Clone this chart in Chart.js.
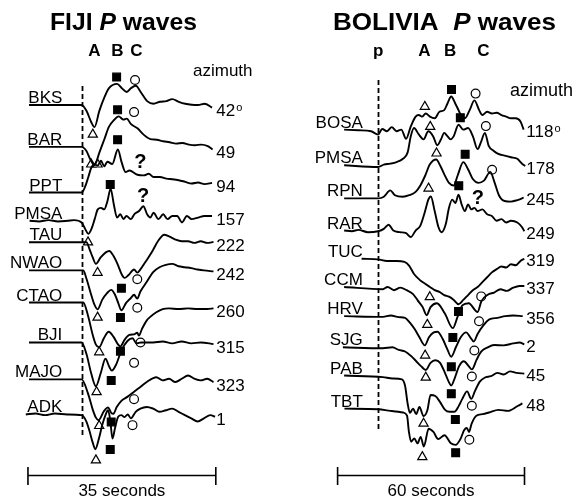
<!DOCTYPE html>
<html>
<head>
<meta charset="utf-8">
<title>FIJI / BOLIVIA P waves</title>
<script src="https://cdn.jsdelivr.net/npm/chart.js@4.4.0/dist/chart.umd.min.js"></script>
<style>
    html, body { margin: 0; padding: 0; background: #fff; }
    #wrap { position: relative; width: 576px; height: 499px; overflow: hidden; }
    #wrap canvas { position: absolute; top: 0; }
    #fijiChart { left: 0; }
    #boliviaChart { left: 288px; }
</style>
</head>
<body>
<div id="wrap">
    <canvas id="fijiChart" width="288" height="499"></canvas>
    <canvas id="boliviaChart" width="288" height="499"></canvas>
</div>
<script>
// ---- FIJI data: time (s after P) , amplitude (up = positive) ----
const fijiStations = ['BKS', 'BAR', 'PPT', 'PMSA', 'TAU', 'NWAO', 'CTAO', 'BJI', 'MAJO', 'ADK'];
const fijiAzimuth = ['42', '49', '94', '157', '222', '242', '260', '315', '323', '1'];
// trace offsets in the record section
const fijiOffset = [101, 144, 191, 220, 242, 271, 304, 345, 383, 419];

const fijiBKS = [[-9.8,0],[0,0],[0.9,-6],[1.8,-17.7],[2.4,-22.7],[3.3,-6],[4.2,7.3],[5.1,17.3],[6.6,21.7],[7.5,17.3],[8.4,13.3],[9.2,17.3],[10.1,19.7],[11,13.3],[12.2,4],[13.4,1.3],[14.6,3.3],[15.8,4],[16.9,6],[18.1,3.3],[19.3,1.3],[20.5,0.3],[21.7,0],[22.9,1.3],[24.3,-2.7]];
const fijiBAR = [[-9.8,0],[0,0],[0.9,-4.3],[1.6,-12.7],[2.4,-18.7],[3.3,-6],[4.2,7.3],[5.1,20.7],[6,27.3],[6.9,31.3],[7.8,28],[8.4,29],[9.2,23.3],[10.4,19],[11.6,12.3],[12.8,8],[14,7.3],[15.2,5.7],[16.4,4.7],[17.6,3.3],[18.8,4],[20,2.3],[21.1,1.7],[22.3,2.3],[23.5,0.7],[24.4,-2.7]];
const fijiPPT = [[-9.8,0],[0,0],[0.65,6],[1.25,16],[1.83,26],[2.4,29],[3,27.7],[3.6,32.7],[4.2,27],[4.8,31.7],[5.7,29.3],[6.75,44.3],[7.46,31],[8.2,21],[8.9,22.7],[10.4,18.3],[11.6,17.7],[12.5,19.3],[13.4,16],[14.6,16],[15.8,14.3],[16.9,13.7],[18.1,12.7],[19.3,11],[20.5,9.3],[21.7,10.3],[22.9,8.7],[24.3,10]];
const fijiPMSA = [[-9.7,0],[-7.9,-0.7],[-6.2,0.7],[-4.4,-0.7],[-2.6,0],[-1.4,0.7],[0,-1.7],[0.65,-8.3],[1.24,-13.3],[1.83,-8.3],[2.43,1.7],[3,11.7],[3.6,13.3],[4.2,11.7],[4.8,20],[5.4,33],[6,16.7],[6.6,3.3],[7.2,6.7],[7.8,1.7],[8.35,5],[9.2,1.7],[9.8,6.7],[10.7,10],[11.5,15],[12.2,6.7],[12.8,3.3],[13.4,8.3],[14.3,1.7],[15.2,6.7],[16,1.7],[16.9,5],[17.8,5],[18.7,-1.7],[19.6,5],[20.5,1.7],[21.7,3.3],[22.9,5],[24.3,5]];
const fijiTAU = [[-9.8,0],[0,0],[0.9,0],[1.48,-7.3],[2.07,-15.7],[2.66,-22.3],[3.55,-15.7],[4.44,-10.7],[5.15,-9],[5.92,-14],[6.81,-24],[7.4,-32.3],[7.99,-36.7],[8.7,-34],[9.77,-28],[10.36,-31.3],[10.95,-28],[11.84,-20.7],[13.03,-10.7],[14.21,1],[15.39,7.7],[16.28,6],[17.47,2.7],[18.65,1],[19.83,1],[21.02,-0.7],[22.2,1],[23.39,-0.7],[24.57,0.3]];
const fijiNWAO = [[-9.8,0],[0.3,0],[0.89,-8.3],[1.78,-25],[2.37,-35],[2.96,-40],[3.85,-30],[4.74,-23.3],[5.51,-20],[6.22,-25],[6.81,-33.3],[7.4,-41],[8.29,-33.3],[9.18,-28.3],[9.77,-25],[10.36,-29],[10.95,-21.7],[12.14,-11.7],[13.32,-1.7],[14.51,3.3],[15.69,5.7],[16.87,6.7],[18.06,4.3],[19.24,3.3],[20.43,2.3],[21.61,1],[22.79,0],[24.57,-1]];
const fijiCTAO = [[-9.8,0],[0.3,0],[1.18,-13.3],[2.07,-33.3],[2.66,-43.3],[3.26,-46],[4.14,-36.7],[5.03,-30],[5.92,-35],[6.81,-43.3],[7.22,-45],[7.99,-38.3],[8.88,-33.3],[9.77,-32.7],[10.36,-31],[10.66,-34],[11.25,-27],[12.14,-18.3],[12.73,-15],[13.91,-10],[15.1,-6.7],[16.28,-6],[18.06,-6.7],[19.83,-6],[21.61,-6.7],[23.39,-6.7],[24.57,-6]];
const fijiBJI = [[-9.8,0],[0,0],[0.89,-11.7],[1.78,-31.7],[2.66,-45],[3.55,-31.7],[4.44,-16.7],[5.15,-25],[5.62,-29],[6.51,-21.7],[7.4,-8.3],[8.58,1.7],[9.47,4.3],[10.24,-1],[11.07,0],[13.32,0],[15.1,1],[16.87,-1],[18.65,1],[20.43,-1],[22.2,0],[24.57,-1.7]];
const fijiMAJO = [[-9.8,0],[0,0],[1.18,-14.3],[2.07,-31],[2.66,-39.3],[3.14,-42],[4.14,-32.7],[4.91,-28.7],[5.51,-34.3],[5.92,-35.3],[6.51,-28.7],[7.4,-22],[8.58,-17.7],[9.77,-12.7],[10.95,-7.7],[12.14,-2.7],[13.91,2.3],[15.1,-1],[16.28,0.7],[17.47,-2.7],[18.65,0.7],[19.83,4],[21.02,0.7],[22.2,-1],[23.39,0.7],[24.57,-2.7]];
const fijiADK = [[-10.4,0],[-8.6,1],[-6.8,-0.7],[-5,1],[-2.66,0],[0,-0.7],[0.89,-7.3],[1.48,-17.3],[2.07,-29],[2.55,-35.7],[3.26,-24],[3.85,-10.7],[4.44,-0.7],[4.91,4.3],[5.33,-5.7],[5.74,-24.7],[6.22,-14],[6.81,-2.3],[7.4,-0.7],[7.99,-2.7],[8.58,0],[9.18,-4],[10.07,2.7],[10.95,6],[12.14,7.7],[13.32,6],[14.51,2.7],[15.69,4.3],[16.87,6],[18.06,2.7],[19.24,-0.7],[20.43,-4],[21.61,-7.3],[22.79,-4],[23.98,-0.7],[24.87,-2.3]];
const fijiTraces = [fijiBKS, fijiBAR, fijiPPT, fijiPMSA, fijiTAU, fijiNWAO, fijiCTAO, fijiBJI, fijiMAJO, fijiADK];

// picked phases A (triangle), B (square), C (circle), ? (uncertain C)
const fijiPickA = [[2.08,-30.3],[1.78,-18],[2.97,29],[1.19,-22],[2.97,-31.3],[2.97,-48.3],[3.27,-51],[2.79,-51],[3.27,-47.7],[2.66,-47]];
const fijiPickB = [[6.52,28.7],[6.7,38],[6.7,54.3],[5.33,37.3],[7.41,-47.3],[7.23,-48.3],[7.23,-50],[5.51,-39],[5.51,-43.7],[5.33,-36]];
const fijiPickC = [[9.95,25.7],[9.77,35.7],null,null,[10.37,-38],[10.37,-38.3],[10.96,-41],[9.77,-21],[9.77,-20.3],[9.48,-11]];
const fijiQuery = [null,null,[10.96,31],[11.44,25],null,null,null,null,null,null];

// ---- BOLIVIA data ----
const boliviaStations = ['BOSA', 'PMSA', 'RPN', 'RAR', 'TUC', 'CCM', 'HRV', 'SJG', 'PAB', 'TBT'];
const boliviaAzimuth = ['118', '178', '245', '249', '319', '337', '356', '2', '45', '48'];
const boliviaOffset = [127, 163, 197, 230, 259, 288, 318, 350, 379, 413];

const bolBOSA = [[-10.9,0.7],[-6.3,0],[-2.25,-1],[0,-4.3],[1.33,1.3],[2.86,-1],[4.39,3.3],[5.92,-1],[7.45,0.7],[8.98,-8.7],[10.5,4],[12.04,14],[13.06,15.7],[14.08,14],[15.3,17.3],[16.63,14],[18.16,12.3],[19.69,19],[21.22,20.7],[22.24,27.3],[23.47,34.7],[24.8,27.3],[25.82,20.7],[26.84,14],[27.86,12.3],[29.39,20.7],[30.92,30.7],[32.45,20.7],[33.47,15.7],[35,19],[36.53,17.3],[38.06,18],[39.59,15.7],[41.12,14],[42.65,12.3],[44.18,12.3],[45.71,9],[46.73,0.7]];
const bolPMSA = [[-10.9,0],[0,-1.7],[1.84,0.7],[3.88,1.7],[5.92,3.3],[7.96,6.7],[9.49,13.3],[10.5,30],[11.53,38.3],[13.06,31.7],[14.59,26.7],[16.12,35],[17.65,30],[18.98,20.7],[20.2,26.7],[21.22,33.3],[22.24,30],[23.27,26.7],[24.29,30],[25.82,41.7],[27.35,36.7],[28.88,38.3],[30.41,30],[31.94,16.7],[32.96,23.3],[34.29,33.3],[35.51,20],[37.04,15],[38.57,11.7],[40.61,10],[42.65,8.3],[44.69,6.7],[46.22,1.7],[47.24,-0.7]];
const bolRPN = [[-10.9,0],[0,0],[1.84,1.7],[3.88,8.3],[5.41,3.3],[7.96,1.7],[10,3.3],[12.04,6.7],[13.57,13.3],[15.1,23.3],[16.63,35],[18.67,40],[20,33.3],[21.22,25],[22.76,16],[24.29,13.3],[25.51,23.3],[27.35,37.3],[28.88,30],[30.41,20],[32.24,16],[33.98,18.3],[36.02,27.3],[37.35,16.7],[38.78,3.3],[40.61,-2.7],[42.65,-3.3],[44.69,-1.7],[46.73,0.7]];
const bolRAR = [[-10.9,0],[-8.4,-0.7],[-6.3,0.7],[-3.27,-1.7],[0,-0.7],[1.84,1.7],[3.37,6],[4.9,0],[6.94,-1.7],[8.98,-2.7],[10.5,-6.7],[12.04,0],[13.57,5],[15.1,20],[16.12,31.7],[16.94,35],[18.16,20],[19.39,3.3],[20.41,-1.7],[21.73,6.7],[22.76,23.3],[23.78,31.7],[24.8,28.3],[25.82,36.7],[26.84,26.7],[27.86,20],[28.88,26.7],[29.9,21.7],[30.92,23.3],[31.94,20],[33.47,21.7],[35,16.7],[36.53,15],[38.06,10],[39.59,11.7],[41.12,8.3],[42.65,10],[44.69,8.3],[46.22,3.3],[46.94,-0.7]];
const bolTUC = [[-5.3,0],[0,-0.7],[2.86,-2.3],[5.92,-2.3],[8.47,-3.3],[10,-7.3],[11.53,-15.7],[13.57,-22.3],[15.1,-25.7],[16.63,-29],[18.16,-32.3],[19.69,-34],[21.22,-37.3],[22.76,-39],[24.29,-42.3],[25.82,-46.7],[27.35,-42.3],[28.88,-37.3],[30.41,-32.3],[31.94,-29],[33.47,-24],[35,-19],[36.53,-14],[38.06,-10.7],[39.59,-8],[41.12,-9],[42.65,-5.7],[44.18,-6.7],[45.71,-2.3],[46.94,0]];
const bolCCM = [[-10.9,0],[1.53,-2.3],[3.06,0],[5.1,-3.3],[7.14,-0.7],[9.18,-3.3],[11.22,-7.3],[12.76,-14],[14.29,-20.7],[15.6,-29],[16.84,-20.7],[18.88,-16.7],[21.43,-27.3],[23.98,-42.3],[25.51,-30.7],[27.04,-19],[29.08,-16.7],[31.94,-25.7],[33.16,-14.7],[35.2,-8],[37.24,-5.7],[39.29,-2.3],[41.33,-4],[43.37,-0.7],[45.41,1],[46.94,1]];
const bolHRV = [[-10.9,0],[1.53,-0.7],[4.08,0.7],[6.63,-1],[8.67,-1.7],[10.2,-6.7],[11.73,-13.3],[13.27,-21.7],[15,-30],[16.33,-21.7],[17.86,-16.7],[19.08,-16],[20.71,-23.3],[22.14,-33.3],[23.47,-41.7],[25,-31.7],[26.53,-21.7],[28.27,-16.7],[29.59,-21.7],[30.71,-26],[31.94,-18.3],[33.67,-10],[35.71,-3.3],[38.27,-1.7],[40.82,0],[43.37,0.7],[46.43,0]];
const bolSJG = [[-11.3,0],[1.53,-1],[4.59,0],[6.63,-2.7],[8.67,-4.3],[10.71,-9.3],[12.24,-14.3],[13.78,-19.3],[15.31,-23.3],[16.84,-16],[18.37,-13.3],[19.9,-16],[21.43,-26],[22.76,-36],[23.47,-39.3],[24.49,-32.7],[26.02,-19.3],[27.55,-14.3],[29.08,-19.3],[30.1,-22.7],[31.63,-12.7],[33.16,-4.3],[35.2,0],[37.24,2.3],[40.31,2],[43.37,4],[45.41,5],[46.94,3]];
const bolPAB = [[-10.9,0],[1.53,-1.7],[4.59,-3],[7.65,-4],[8.67,-10.7],[9.49,-29],[10.2,-38.3],[11.22,-34],[12.24,-39.7],[13.27,-32.3],[14.59,-41.7],[15.82,-35.7],[16.84,-20],[18.37,-21],[19.9,-27.3],[21.43,-35],[22.96,-37.3],[24.49,-37.3],[25.82,-31.7],[27.04,-24],[28.57,-16.3],[29.9,-24],[31.12,-15.7],[32.65,-6.3],[34.18,-2.3],[36.22,-0.7],[38.27,2.7],[40.31,1],[42.35,4.3],[44.39,2.7],[46.94,2]];
const bolTBT = [[-10.8,0],[0.1,-0.7],[3.98,-2.3],[8.06,-4],[9.29,-7.3],[9.9,-24],[10.61,-34],[11.63,-30.7],[12.65,-35.7],[13.67,-29],[14.69,-39],[16.22,-20.7],[17.76,-24],[19.29,-31.3],[21.33,-27.3],[23.37,-35.7],[24.9,-37.3],[26.43,-31.3],[27.65,-22],[28.5,-20],[29.2,-24],[30,-15.7],[31.53,-7.3],[33.57,-5.7],[35.61,-4],[38.67,-1.3],[41.73,-2.3],[44.8,2.7],[46.33,5.3]];
const boliviaTraces = [bolBOSA, bolPMSA, bolRPN, bolRAR, bolTUC, bolCCM, bolHRV, bolSJG, bolPAB, bolTBT];

const boliviaPickA = [[15.0,24.3],[16.74,39.7],[18.76,46.3],[16.2,43.3],[16.6,-39.3],[15.8,-38.7],[15.1,-40.3],[15.3,-31],[14.6,-49.3],[14.2,-49.7]];
const boliviaPickB = [[23.57,42],[26.4,49],[27.95,45.3],[25.9,46],[25.8,-54.3],[24.0,-52],[23.5,-52],[23.5,-47.7],[24.8,-45.3],[24.9,-45.3]];
const boliviaPickC = [[31.3,37.7],[34.6,40.3],[36.6,29.5],null,[33.1,-38.7],[32.4,-35.3],[30.9,-35.3],[30.1,-30],[30.1,-31],[29.3,-32]];
const boliviaQuery = [null,null,null,[32.0,33.3],null,null,null,null,null,null];

const FONT = '"Liberation Sans", Arial, Helvetica, sans-serif';

document.addEventListener('DOMContentLoaded', function() {
    initPanel('fijiChart', {
        stations: fijiStations, azimuth: fijiAzimuth, offset: fijiOffset, traces: fijiTraces,
        pickA: fijiPickA, pickB: fijiPickB, pickC: fijiPickC, query: fijiQuery,
        tMin: -13.96, tMax: 37.2,
        title: 'FIJI ', titleX: 123.5, titleW: 147,
        headers: [['A', 2.4], ['B', 6.65], ['C', 10.2]], headerY: 51,
        azWord: { x: 193, y: 71, size: 17 },
        labelT: -3.6, azT: 25.1, azDy: 4, azSize: 17,
        dash: [86, 438],
        bar: [-10, 25], barText: '35 seconds'
    });
    initPanel('boliviaChart', {
        stations: boliviaStations, azimuth: boliviaAzimuth, offset: boliviaOffset, traces: boliviaTraces,
        pickA: boliviaPickA, pickB: boliviaPickB, pickC: boliviaPickC, query: boliviaQuery,
        tMin: -26.77, tMax: 61.38,
        title: 'BOLIVIA  ', titleX: 156.5, titleW: 223,
        headers: [['p', 0], ['A', 14.85], ['B', 23.1], ['C', 33.8]], headerY: 51,
        azWord: { x: 222, y: 91, size: 18 },
        labelT: -4.9, azT: 47.6, azDy: 3, azSize: 17,
        dash: [80, 430],
        bar: [-13, 47], barText: '60 seconds'
    });
});

// turn [t, amp] pairs of one trace into chart points
function toPoints(pairs, base) {
    return pairs.map(p => ({ x: p[0], y: base - p[1] }));
}

function pickPoints(picks, offset) {
    const pts = [];
    picks.forEach((p, i) => {
        if (p) pts.push({ x: p[0], y: offset[i] - p[1] });
    });
    return pts;
}

function initPanel(canvasId, cfg) {
    const datasets = cfg.traces.map((tr, i) => ({
        label: cfg.stations[i],
        data: toPoints(tr, cfg.offset[i]),
        borderColor: '#000',
        borderWidth: 1.9,
        pointRadius: 0,
        cubicInterpolationMode: 'monotone',
        fill: false
    }));

    const markerBase = { showLine: false, pointBorderColor: '#000', pointBorderWidth: 1.2 };
    datasets.push(Object.assign({}, markerBase, {
        label: 'A', data: pickPoints(cfg.pickA, cfg.offset),
        pointStyle: 'triangle', pointRadius: 5.3, pointBackgroundColor: '#fff'
    }));
    datasets.push(Object.assign({}, markerBase, {
        label: 'B', data: pickPoints(cfg.pickB, cfg.offset),
        pointStyle: 'rect', pointRadius: 5.5, pointBackgroundColor: '#000'
    }));
    datasets.push(Object.assign({}, markerBase, {
        label: 'C', data: pickPoints(cfg.pickC, cfg.offset),
        pointStyle: 'circle', pointRadius: 4.4, pointBackgroundColor: '#fff'
    }));

    new Chart(document.getElementById(canvasId), {
        type: 'line',
        data: { datasets: datasets },
        options: {
            responsive: false,
            animation: false,
            events: [],
            layout: { padding: 0 },
            plugins: { legend: { display: false }, tooltip: { enabled: false } },
            scales: {
                x: { type: 'linear', min: cfg.tMin, max: cfg.tMax, display: false },
                y: { type: 'linear', min: 0, max: 499, reverse: true, display: false }
            }
        },
        plugins: [sectionPlugin(cfg)]
    });
}

// draw text runs horizontally stretched to a target width
function drawTitle(ctx, runs, cx, y, targetW) {
    const widths = runs.map(r => { ctx.font = r.font; return ctx.measureText(r.text).width; });
    const total = widths.reduce((a, b) => a + b, 0);
    ctx.save();
    ctx.translate(cx - targetW / 2, y);
    ctx.scale(targetW / total, 1);
    ctx.textAlign = 'left';
    ctx.textBaseline = 'alphabetic';
    let x = 0;
    runs.forEach((r, i) => {
        ctx.font = r.font;
        ctx.fillText(r.text, x, 0);
        x += widths[i];
    });
    ctx.restore();
}

function sectionPlugin(cfg) {
    return {
        id: 'section',
        beforeDatasetsDraw(chart) {
            const ctx = chart.ctx;
            const xs = chart.scales.x;
            const x0 = Math.round(xs.getPixelForValue(0)) + 0.5;
            ctx.save();
            ctx.strokeStyle = '#000';
            ctx.lineWidth = 1.8;
            ctx.setLineDash([5, 3]);
            ctx.beginPath();
            ctx.moveTo(x0, cfg.dash[0]);
            ctx.lineTo(x0, cfg.dash[1]);
            ctx.stroke();
            ctx.restore();
        },
        afterDatasetsDraw(chart) {
            const ctx = chart.ctx;
            const xs = chart.scales.x;
            const ys = chart.scales.y;
            ctx.save();
            ctx.fillStyle = '#000';

            // title
            drawTitle(ctx, [
                { text: cfg.title, font: 'bold 24px ' + FONT },
                { text: 'P', font: 'italic bold 24px ' + FONT },
                { text: ' waves', font: 'bold 24px ' + FONT }
            ], cfg.titleX, 30, cfg.titleW);

            // phase headers
            ctx.font = 'bold 17px ' + FONT;
            ctx.textAlign = 'center';
            ctx.textBaseline = 'middle';
            cfg.headers.forEach(h => ctx.fillText(h[0], xs.getPixelForValue(h[1]), cfg.headerY));

            // "azimuth"
            ctx.font = cfg.azWord.size + 'px ' + FONT;
            ctx.textAlign = 'left';
            ctx.fillText('azimuth', cfg.azWord.x, cfg.azWord.y);

            // station names
            ctx.font = '17px ' + FONT;
            ctx.textAlign = 'right';
            ctx.textBaseline = 'alphabetic';
            const lx = xs.getPixelForValue(cfg.labelT);
            cfg.stations.forEach((s, i) => ctx.fillText(s, lx, ys.getPixelForValue(cfg.offset[i]) - 2));

            // azimuth values next to trace ends
            const ax = xs.getPixelForValue(cfg.azT);
            ctx.textAlign = 'left';
            ctx.textBaseline = 'middle';
            cfg.azimuth.forEach((a, i) => {
                const tr = cfg.traces[i];
                const last = tr[tr.length - 1];
                const y = ys.getPixelForValue(cfg.offset[i] - last[1]) + cfg.azDy;
                ctx.font = cfg.azSize + 'px ' + FONT;
                ctx.fillText(a, ax, y);
                if (i === 0) {
                    const w = ctx.measureText(a).width;
                    ctx.font = '11px ' + FONT;
                    ctx.fillText('o', ax + w + 1, y - 4);
                }
            });

            // uncertain picks
            ctx.font = 'bold 20px ' + FONT;
            ctx.textAlign = 'center';
            ctx.textBaseline = 'middle';
            cfg.query.forEach((q, i) => {
                if (!q) return;
                ctx.fillText('?', xs.getPixelForValue(q[0]), ys.getPixelForValue(cfg.offset[i] - q[1]));
            });

            // time scale bar
            const b0 = xs.getPixelForValue(cfg.bar[0]);
            const b1 = xs.getPixelForValue(cfg.bar[1]);
            ctx.strokeStyle = '#000';
            ctx.lineWidth = 1.6;
            ctx.beginPath();
            ctx.moveTo(b0, 475.5); ctx.lineTo(b1, 475.5);
            ctx.moveTo(b0, 467); ctx.lineTo(b0, 485);
            ctx.moveTo(b1, 467); ctx.lineTo(b1, 485);
            ctx.stroke();
            ctx.font = '17px ' + FONT;
            ctx.fillText(cfg.barText, (b0 + b1) / 2, 491);
            ctx.restore();
        }
    };
}
</script>
</body>
</html>
